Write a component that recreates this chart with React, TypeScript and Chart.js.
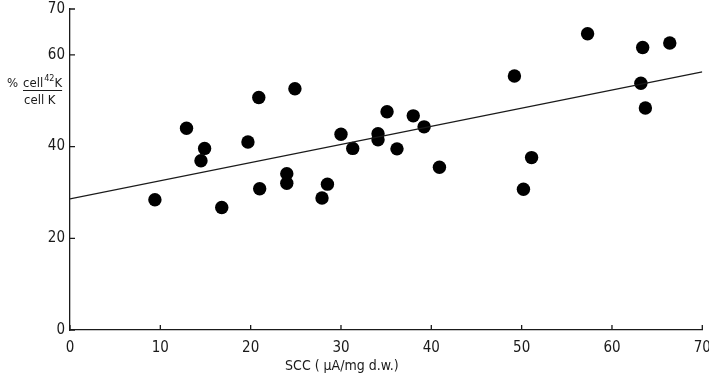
import React, { useEffect, useRef } from "react";
import { Chart, registerables } from "chart.js";

Chart.register(...registerables);

const sccValues = [9.4, 12.9, 14.9, 14.5, 16.8, 19.7, 20.9, 21.0, 24.9, 24.0, 24.0, 27.9, 28.5, 30.0, 31.3, 34.1, 34.1, 35.1, 36.2, 38.0, 39.2, 40.9, 49.2, 50.2, 51.1, 57.3, 63.2, 63.4, 63.7, 66.4];
const k42Values = [28.4, 44.0, 39.6, 36.9, 26.7, 41.0, 50.7, 30.8, 52.6, 34.1, 32.0, 28.8, 31.8, 42.7, 39.6, 42.8, 41.5, 47.6, 39.5, 46.7, 44.3, 35.5, 55.4, 30.7, 37.6, 64.6, 53.8, 61.6, 48.4, 62.6];
const fitX = [0, 70];
const fitY = [28.6, 56.3];
const xTicks = [0, 10, 20, 30, 40, 50, 60, 70];
const yTicks = [0, 20, 40, 60, 70];
const xTitle = "SCC ( \u03BCA/mg d.w.)";
const yLabelTop = "cell";
const yLabelSup = "42";
const yLabelK = "K";
const yLabelBottom = "cell K";

const FONT = "'DejaVu Sans Condensed', 'Liberation Sans Narrow', sans-serif";
const INK = "#1a1a1a";

const inwardTicks = {
  id: "inwardTicks",
  afterDraw(chart: any) {
    const ctx = chart.ctx;
    const xs = chart.scales.x;
    const ys = chart.scales.y;
    const a = chart.chartArea;
    ctx.save();
    ctx.strokeStyle = INK;
    ctx.lineWidth = 1.3;
    ctx.beginPath();
    xs.ticks.forEach((t: any) => {
      const px = xs.getPixelForValue(t.value);
      ctx.moveTo(px, a.bottom);
      ctx.lineTo(px, a.bottom - 5);
    });
    ys.ticks.forEach((t: any) => {
      const py = ys.getPixelForValue(t.value);
      ctx.moveTo(a.left, py);
      ctx.lineTo(a.left + 5, py);
    });
    ctx.stroke();

    // x-axis title
    ctx.fillStyle = INK;
    ctx.font = "14px " + FONT;
    ctx.textAlign = "center";
    ctx.textBaseline = "middle";
    ctx.fillText(xTitle, xs.getPixelForValue(30.1), 366);

    // y-axis label (fraction)
    ctx.textAlign = "left";
    ctx.textBaseline = "alphabetic";
    ctx.font = "13px " + FONT;
    ctx.fillText("%", 7, 87);
    let x = 23;
    ctx.fillText(yLabelTop, x, 87);
    x += ctx.measureText(yLabelTop).width + 1;
    ctx.font = "9px " + FONT;
    ctx.fillText(yLabelSup, x, 81);
    x += ctx.measureText(yLabelSup).width;
    ctx.font = "13px " + FONT;
    ctx.fillText(yLabelK, x, 87);
    x += ctx.measureText(yLabelK).width;
    ctx.beginPath();
    ctx.lineWidth = 1.2;
    ctx.moveTo(23, 90.5);
    ctx.lineTo(x, 90.5);
    ctx.stroke();
    ctx.fillText(yLabelBottom, 24, 104);
    ctx.restore();
  },
};

export default function App() {
  const ref = useRef<HTMLCanvasElement | null>(null);
  useEffect(() => {
    if (!ref.current) return;
    const chart = new Chart(ref.current, {
      type: "scatter",
      data: {
        datasets: [
          {
            type: "line",
            data: fitX.map((x, i) => ({ x, y: fitY[i] })),
            borderColor: INK,
            borderWidth: 1.2,
            pointRadius: 0,
            fill: false,
          } as any,
          {
            data: sccValues.map((x, i) => ({ x, y: k42Values[i] })),
            backgroundColor: "#000",
            borderWidth: 0,
            pointRadius: 6.7,
          },
        ],
      },
      options: {
        animation: false,
        responsive: true,
        maintainAspectRatio: false,
        layout: { padding: { top: 0, right: 0, left: 0, bottom: 0 } },
        plugins: { legend: { display: false }, tooltip: { enabled: false } },
        scales: {
          x: {
            type: "linear",
            min: 0,
            max: 70,
            afterBuildTicks: (s: any) => {
              s.ticks = xTicks.map((v) => ({ value: v }));
            },
            afterFit: (s: any) => {
              s.height = 47;
              s.paddingRight = 6;
              s.paddingLeft = 0;
            },
            grid: { display: false, drawTicks: false },
            border: { display: true, color: INK, width: 1.3 },
            ticks: { color: INK, font: { family: FONT, size: 15 }, padding: 9, maxRotation: 0 },
          },
          y: {
            type: "linear",
            min: 0,
            max: 70,
            afterBuildTicks: (s: any) => {
              s.ticks = yTicks.map((v) => ({ value: v }));
            },
            afterFit: (s: any) => {
              s.width = 70;
              s.paddingTop = 9;
              s.paddingBottom = 0;
            },
            grid: { display: false, drawTicks: false },
            border: { display: true, color: INK, width: 1.3 },
            ticks: { color: INK, font: { family: FONT, size: 15 }, padding: 5 },
          },
        },
      },
      plugins: [inwardTicks],
    });
    return () => chart.destroy();
  }, []);
  return (
    <div style={{ position: "absolute", left: 0, top: 0, width: 709, height: 377, background: "#fff" }}>
      <canvas ref={ref} />
    </div>
  );
}
